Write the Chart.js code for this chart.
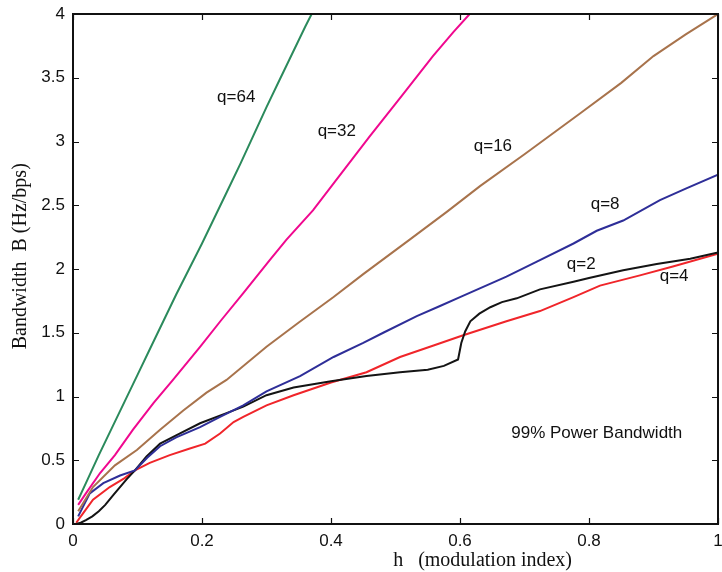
<!DOCTYPE html>
<html>
<head>
<meta charset="utf-8">
<script src="https://cdn.jsdelivr.net/npm/chart.js@4.4.1/dist/chart.umd.min.js"></script>
<style>
html,body{margin:0;padding:0;background:#fff;}
#wrap{width:722px;height:572px;position:relative;}
</style>
</head>
<body>
<div id="wrap"><canvas id="c" width="722" height="572"></canvas></div>
<script>
// ---- data ----
const hQ64 = [0.008,0.02,0.04,0.06,0.08,0.1,0.12,0.14,0.16,0.18,0.2,0.22,0.24,0.26,0.28,0.30,0.32,0.34,0.36,0.37];
const bQ64 = [0.19,0.32,0.54,0.75,0.96,1.17,1.38,1.59,1.80,2.00,2.20,2.41,2.62,2.83,3.05,3.27,3.48,3.69,3.90,4.0];

const hQ32 = [0.008,0.02,0.042,0.065,0.093,0.125,0.155,0.197,0.23,0.264,0.305,0.331,0.372,0.41,0.46,0.51,0.558,0.59,0.615];
const bQ32 = [0.15,0.24,0.40,0.54,0.74,0.95,1.13,1.39,1.60,1.81,2.07,2.23,2.46,2.71,3.04,3.36,3.67,3.86,4.0];

const hQ16 = [0.008,0.031,0.065,0.099,0.135,0.171,0.207,0.238,0.3,0.35,0.404,0.45,0.522,0.58,0.631,0.7,0.786,0.85,0.9,0.95,1.0];
const bQ16 = [0.10,0.29,0.46,0.58,0.74,0.89,1.03,1.13,1.39,1.58,1.78,1.96,2.23,2.45,2.65,2.90,3.22,3.46,3.67,3.84,4.0];

const hQ8 = [0.008,0.026,0.047,0.073,0.096,0.115,0.135,0.16,0.197,0.228,0.264,0.3,0.352,0.404,0.45,0.481,0.533,0.569,0.6,0.672,0.72,0.776,0.812,0.853,0.91,0.95,1.0];
const bQ8 = [0.06,0.24,0.32,0.38,0.42,0.52,0.61,0.68,0.76,0.84,0.93,1.04,1.16,1.31,1.42,1.50,1.63,1.71,1.78,1.94,2.06,2.20,2.30,2.38,2.54,2.63,2.74];

const hQ2 = [0.005,0.012,0.02,0.03,0.04,0.05,0.063,0.083,0.096,0.114,0.135,0.166,0.197,0.238,0.264,0.3,0.342,0.4,0.455,0.507,0.55,0.575,0.597,0.602,0.608,0.616,0.63,0.647,0.665,0.688,0.724,0.776,0.8,0.853,0.905,0.957,1.0];
const bQ2 = [0.0,0.01,0.03,0.06,0.10,0.15,0.23,0.35,0.42,0.53,0.63,0.71,0.79,0.87,0.92,1.01,1.07,1.12,1.16,1.19,1.21,1.24,1.29,1.42,1.51,1.59,1.65,1.70,1.74,1.77,1.84,1.90,1.93,1.99,2.04,2.08,2.13];

const hQ4 = [0.005,0.015,0.031,0.057,0.08,0.096,0.119,0.15,0.18,0.205,0.228,0.249,0.264,0.3,0.342,0.4,0.455,0.507,0.559,0.605,0.672,0.724,0.776,0.817,0.879,0.93,1.0];
const bQ4 = [0.01,0.08,0.19,0.29,0.36,0.42,0.48,0.54,0.59,0.63,0.71,0.80,0.84,0.93,1.01,1.11,1.19,1.31,1.40,1.48,1.59,1.67,1.78,1.87,1.95,2.02,2.12];

const seriesNames = ['q=64','q=32','q=16','q=8','q=2','q=4'];
const xTicks = [0,0.2,0.4,0.6,0.8,1];
const yTicks = [0,0.5,1,1.5,2,2.5,3,3.5,4];
// label anchor points (h, B) for in-plot annotations
const labelH = [0.253,0.409,0.651,0.825,0.788,0.932,0.812];
const labelB = [3.35,3.08,2.96,2.51,2.04,1.94,0.71];
const labelText = ['q=64','q=32','q=16','q=8','q=2','q=4','99% Power Bandwidth'];
const xTitle = 'h   (modulation index)';
const yTitle = 'Bandwidth  B (Hz/bps)';

// ---- build chart ----
const colors = ['#2b8a5c','#f0088f','#a8734c','#2e2e98','#141414','#f0252a'];
const hs = [hQ64,hQ32,hQ16,hQ8,hQ2,hQ4];
const bs = [bQ64,bQ32,bQ16,bQ8,bQ2,bQ4];
const datasets = hs.map((h,i)=>({
  label: seriesNames[i],
  data: h.map((x,j)=>({x:x,y:bs[i][j]})),
  borderColor: colors[i],
  borderWidth: 2,
  pointRadius: 0,
  tension: 0,
  fill: false
}));

const fmt = v => String(Math.round(v*10)/10);

const framePlugin = {
  id:'frame',
  afterDraw(chart){
    const {ctx, chartArea:a, scales:{x,y}} = chart;
    ctx.save();
    ctx.strokeStyle = '#111';
    ctx.lineWidth = 2;
    ctx.strokeRect(a.left, a.top, a.right-a.left, a.bottom-a.top);
    ctx.lineWidth = 1.2;
    const tl = 6;
    ctx.beginPath();
    xTicks.forEach(v=>{
      const px = Math.round(x.getPixelForValue(v))+0.5;
      ctx.moveTo(px,a.bottom); ctx.lineTo(px,a.bottom-tl);
      ctx.moveTo(px,a.top); ctx.lineTo(px,a.top+tl);
    });
    yTicks.forEach(v=>{
      const py = Math.round(y.getPixelForValue(v))+0.5;
      ctx.moveTo(a.left,py); ctx.lineTo(a.left+tl,py);
      ctx.moveTo(a.right,py); ctx.lineTo(a.right-tl,py);
    });
    ctx.stroke();
    // annotations
    ctx.fillStyle = '#111';
    ctx.font = '17px "Liberation Sans", Arial, sans-serif';
    ctx.textAlign = 'center';
    ctx.textBaseline = 'middle';
    labelText.forEach((t,i)=>{
      ctx.fillText(t, x.getPixelForValue(labelH[i]), y.getPixelForValue(labelB[i]));
    });
    // axis titles
    ctx.font = '20px "Liberation Serif", "Times New Roman", serif';
    ctx.fillText(xTitle, x.getPixelForValue(0.635), 561);
    ctx.save();
    ctx.translate(21, y.getPixelForValue(2.1));
    ctx.rotate(-Math.PI/2);
    ctx.fillText(yTitle, 0, 0);
    ctx.restore();
    ctx.restore();
  }
};

function zeroPad(s){ s.paddingLeft = 0; s.paddingRight = 0; s.paddingTop = 0; s.paddingBottom = 0; }

new Chart(document.getElementById('c'), {
  type:'line',
  data:{datasets},
  options:{
    responsive:false,
    animation:false,
    devicePixelRatio:1,
    layout:{padding:{left:0,right:4,top:14,bottom:0}},
    plugins:{legend:{display:false},tooltip:{enabled:false}},
    scales:{
      x:{
        type:'linear', min:0, max:1,
        grid:{display:false, drawTicks:false},
        border:{display:false},
        afterFit(s){ s.height = 48; zeroPad(s); },
        afterBuildTicks(s){ s.ticks = xTicks.map(v=>({value:v})); },
        ticks:{
          padding:7, color:'#111', maxRotation:0, autoSkip:false,
          font:{family:'"Liberation Sans", Arial, sans-serif', size:17},
          callback:v=>fmt(v)
        }
      },
      y:{
        type:'linear', min:0, max:4,
        grid:{display:false, drawTicks:false},
        border:{display:false},
        afterFit(s){ s.width = 73; zeroPad(s); },
        afterBuildTicks(s){ s.ticks = yTicks.map(v=>({value:v})); },
        ticks:{
          padding:8, color:'#111', autoSkip:false,
          font:{family:'"Liberation Sans", Arial, sans-serif', size:17},
          callback:v=>fmt(v)
        }
      }
    }
  },
  plugins:[framePlugin]
});
</script>
</body>
</html>
